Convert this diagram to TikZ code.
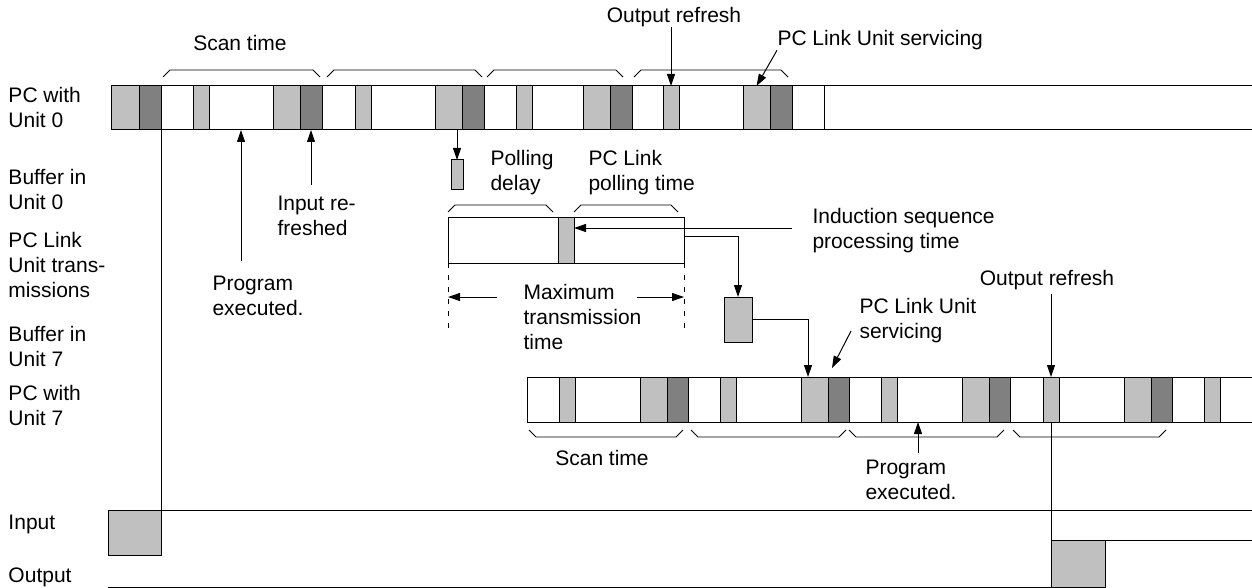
\documentclass[tikz,border=0pt]{standalone}
\usepackage{fontspec}
\setmainfont{Liberation Sans}
\usetikzlibrary{arrows.meta, positioning, calc}
\definecolor{blklight}{RGB}{192,192,192}
\definecolor{blkdark}{RGB}{128,128,128}

\tikzset{
  lbl/.style={inner sep=0pt, align=left, font=\fontsize{21}{25}\selectfont},
  blk/.style={draw, fill=blklight, inner sep=0pt, outer sep=0pt, anchor=north west},
  dblk/.style={blk, fill=blkdark},
  arr/.style={-{Triangle[length=12pt, width=8pt]}},
  brc/.style={line width=0.8pt},
}

\begin{document}
\begin{tikzpicture}[x=1pt, y=-1pt, line width=1pt]
  \useasboundingbox (0,0) rectangle (1252,588);

  % row labels
  \node[lbl, anchor=west] (lblpc0) at (8,107) {PC with\\Unit 0};
  \node[lbl, anchor=west] (lblbuf0) at (8,189) {Buffer in\\Unit 0};
  \node[lbl, anchor=west] (lbllink) at (8,265) {PC Link\\Unit trans-\\missions};
  \node[lbl, anchor=west] (lblbuf7) at (8,346) {Buffer in\\Unit 7};
  \node[lbl, anchor=west] (lblpc7) at (8,405) {PC with\\Unit 7};
  \node[lbl, anchor=west] (lblin) at (8,524) {Input};
  \node[lbl, anchor=west] (lblout) at (8,577) {Output};

  % PC with Unit 0
  \draw (1252,86) -- (111,86) -- (111,130) -- (1252,130);
  \node[blk, minimum width=28pt, minimum height=44pt] (tb0) at (111,86) {};
  \node[dblk, minimum width=22pt, minimum height=44pt] (tc0) at (139,86) {};
  \foreach \s/\w [count=\i] in {161/64, 323/64, 484/51, 631/64} {
    \node[blk, minimum width=16pt, minimum height=44pt] (ta\i) at (\s+32,86) {};
    \node[blk, minimum width=27pt, minimum height=44pt] (tb\i) at (\s+48+\w,86) {};
    \node[dblk, minimum width=22pt, minimum height=44pt] (tc\i) at (\s+75+\w,86) {};
  }
  \draw (824,86) -- (824,130);
  \foreach \a/\b in {163/320, 327/482, 487/623, 634/788}
    \draw[brc] (\a,77) -- ++(7,-7) -- (\b-7,70) -- (\b,77);

  \node[lbl] (scan0) at (240,43) {Scan time};
  \node[lbl] (outref0) at (674,17) {Output refresh};
  \node[lbl, anchor=west] (serv0) at (777,40) {PC Link Unit servicing};
  \node[lbl, anchor=west] (prog0) at (212,296) {Program\\executed.};
  \node[lbl, anchor=west] (inref) at (277,216) {Input re-\\freshed};

  \draw[arr] (outref0.south -| ta4.north) -- (ta4.north);
  \draw[arr] (serv0.south west) -- (tb4.north);
  \draw[arr] (prog0.north west) ++(29,-15) -- ($(ta1.south east)+(32,0)$);
  \draw[arr, shorten <=11pt] (inref.north -| tc1.south) -- (tc1.south);

  % Buffer in Unit 0
  \node[blk, minimum width=12pt, minimum height=30pt] (buf0) at (451,160) {};
  \draw[arr] (buf0.north |- tb2.south) -- (buf0.north);

  % PC Link Unit transmissions
  \node[draw, inner sep=0pt, outer sep=0pt, anchor=north west,
        minimum width=236pt, minimum height=46pt] (trans) at (448,217) {};
  \node[blk, minimum width=16pt, minimum height=46pt] (indblk) at (558,217) {};
  \draw[brc] (448,212) -- ++(7,-7) -- (546,205) -- (553,212);
  \draw[brc] (574,212) -- ++(7,-7) -- (671,205) -- (678,212);
  \node[lbl, anchor=west] (polldly) at (490,173) {Polling\\delay};
  \node[lbl, anchor=west] (pollt) at (588,173) {PC Link\\polling time};
  \node[lbl, anchor=west] (induct) at (812,231) {Induction sequence\\processing time};
  \draw[arr] (induct.west) ++(-20,-3) -- ($(indblk.north east)+(0,11)$);

  \draw[dash pattern=on 5pt off 7pt] (trans.south west) -- ++(0,67);
  \draw[dash pattern=on 5pt off 7pt] (trans.south east) -- ++(0,67);
  \coordinate (mtl) at (448,297);
  \coordinate (mtr) at (684,297);
  \node[lbl, anchor=west] (maxtr) at (523,317) {Maximum\\transmission\\time};
  \draw[arr] (mtl) ++(49,0) -- (mtl);
  \draw[arr] (mtr) ++(-47,0) -- (mtr);

  % Buffer in Unit 7
  \node[blk, minimum width=28pt, minimum height=45pt] (buf7) at (724,297) {};
  \draw[arr] (trans.north east) ++(0,19) -| (buf7.north);

  % PC with Unit 7
  \draw (1252,377) -- (527,377) -- (527,422) -- (1252,422);
  \foreach \s [count=\i] in {527, 688, 849, 1011} {
    \node[blk, minimum width=16pt, minimum height=45pt] (ba\i) at (\s+32,377) {};
    \node[blk, minimum width=27pt, minimum height=45pt] (bb\i) at (\s+113,377) {};
    \node[dblk, minimum width=21pt, minimum height=45pt] (bc\i) at (\s+140,377) {};
  }
  \node[blk, minimum width=16pt, minimum height=45pt] (ba5) at (1204,377) {};
  \foreach \a/\b in {529/683, 691/846, 849/1004, 1013/1166}
    \draw[brc] (\a,430) -- ++(7,7) -- (\b-7,437) -- (\b,430);
  \draw[arr] (buf7.east) -| ($(bb2.north west)+(7,0)$);

  \node[lbl] (scan7) at (602,458) {Scan time};
  \node[lbl, anchor=west] (serv7) at (859,321) {PC Link Unit\\servicing};
  \node[lbl] (outref7) at (1047,280) {Output refresh};
  \node[lbl, anchor=west] (prog7) at (865,480) {Program\\executed.};

  \draw[arr] (serv7.west) ++(-8,10) -- ($(bc2.north west)+(4,-9)$);
  \draw[arr, shorten <=4pt] (outref7.south -| ba4.north) -- (ba4.north);
  \draw[arr] (prog7.north west) ++(53,-7) -- ($(ba3.south east)+(21,0)$);

  % Input and Output
  \node[blk, minimum width=53pt, minimum height=45pt] (insig) at (108,510) {};
  \coordinate (inend) at (1252,510);
  \draw (tc0.south east) -- (insig.north east) -- (inend);
  \node[blk, minimum width=54pt, minimum height=47pt] (outsig) at (1051,540) {};
  \coordinate (outstart) at (108,587);
  \coordinate (outend) at (1252,540);
  \draw (outstart) -- (outsig.south west);
  \draw (ba4.south) -- (outsig.north west);
  \draw (outsig.north east) -- (outend);
\end{tikzpicture}
\end{document}
